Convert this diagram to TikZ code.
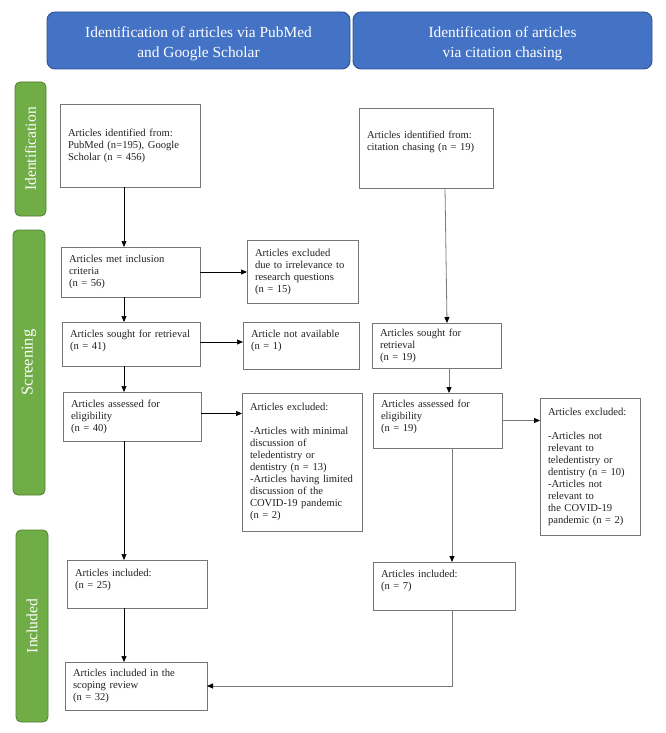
\documentclass[tikz,border=0pt]{standalone}
\usepackage{fontspec}
\setmainfont{Liberation Serif}
\usetikzlibrary{arrows.meta}
\definecolor{hdrblue}{HTML}{4472C4}
\definecolor{hdredge}{HTML}{2F528F}
\definecolor{bargreen}{HTML}{70AD47}
\definecolor{baredge}{HTML}{507E32}
\definecolor{boxedge}{HTML}{767676}
\definecolor{linegray}{HTML}{7A7A7A}
\definecolor{txt}{HTML}{222222}
\begin{document}
\begin{tikzpicture}[x=1pt,y=-1pt,
  hdr/.style={draw=hdredge, fill=hdrblue, line width=0.9pt, rounded corners=8pt, inner sep=0pt, outer sep=0pt},
  hdrtext/.style={text=white, align=center, font=\fontsize{15.4}{20}\selectfont, inner sep=0pt},
  bar/.style={draw=baredge, fill=bargreen, line width=0.8pt, rounded corners=5pt, text=white, font=\fontsize{15.5}{18}\selectfont, rotate=90, inner sep=0pt, outer sep=0pt},
  stepbox/.style={draw=boxedge, fill=white, line width=0.8pt, align=left, anchor=north west, inner xsep=8pt, inner ysep=2pt, outer sep=0pt, text=txt, font=\fontsize{10.6}{12}\selectfont},
  arr/.style={line width=0.7pt, -{Triangle[length=6pt,width=5pt]}},
  garr/.style={draw=linegray, line width=0.8pt, -{Triangle[length=6pt,width=5pt,color=black]}}
]
\useasboundingbox (0,0) rectangle (666,733);

% headers
\node[hdr, minimum width=303pt, minimum height=57pt] (hL) at (198.5,40.5) {};
\node[hdrtext] (hLt) at ([yshift=-3pt]hL.center) {Identification of articles via PubMed\\and Google Scholar};
\node[hdr, minimum width=299pt, minimum height=57pt] (hR) at (502.5,40.5) {};
\node[hdrtext] (hRt) at ([yshift=-3pt]hR.center) {Identification of articles\\via citation chasing};

% side bars
\node[bar, minimum width=134pt, minimum height=31pt] (bI) at (30.5,149) {Identification};
\node[bar, minimum width=265pt, minimum height=32pt, font=\fontsize{16.5}{18}\selectfont] (bS) at (29,362.5) {Screening};
\node[bar, minimum width=192pt, minimum height=32pt] (bN) at (32,626) {Included};

% left column
\node[stepbox, text width=124pt, minimum height=83pt] (a1) at (60,104) {Articles identified from:\\PubMed (n=195), Google\\Scholar (n = 456)};
\node[stepbox, text width=123pt, minimum height=50pt] (a2) at (61,247) {Articles met inclusion\\criteria\\(n = 56)};
\node[stepbox, text width=95pt, minimum height=63pt] (e1) at (247,240) {Articles excluded\\due to irrelevance to\\research questions\\(n = 15)};
\node[stepbox, text width=122pt, minimum height=44pt, text depth=20.5pt] (a3) at (62,322) {Articles sought for retrieval\\(n = 41)};
\node[stepbox, text width=100pt, minimum height=47pt, text depth=22.5pt] (na) at (243,322) {Article not available\\(n = 1)};
\node[stepbox, text width=122pt, minimum height=49pt] (a4) at (63,392) {Articles assessed for\\eligibility\\(n = 40)};
\node[stepbox, text width=104pt, minimum height=138pt] (e2) at (242,393) {Articles excluded:\\[12pt]-Articles with minimal\\discussion of\\teledentistry or\\dentistry (n = 13)\\-Articles having limited\\discussion of the\\COVID-19 pandemic\\(n = 2)};
\node[stepbox, text width=124pt, minimum height=48pt, text depth=22.5pt] (li) at (67,560) {Articles included:\\(n = 25)};
\node[stepbox, text width=126pt, minimum height=48pt] (fin) at (65,662) {Articles included in the\\scoping review\\(n = 32)};

% right column
\node[stepbox, text width=118pt, minimum height=80pt, text depth=26.5pt] (rb1) at (359,108) {Articles identified from:\\citation chasing (n = 19)};
\node[stepbox, text width=113pt, minimum height=45pt] (rs) at (372,323) {Articles sought for\\retrieval\\(n = 19)};
\node[stepbox, text width=113pt, minimum height=55pt, text depth=33.5pt] (ra) at (373,393) {Articles assessed for\\eligibility\\(n = 19)};
\node[stepbox, text width=84pt, minimum height=137pt] (re) at (540,398) {Articles excluded:\\[12pt]-Articles not\\relevant to\\teledentistry or\\dentistry (n = 10)\\-Articles not\\relevant to\\the COVID-19\\pandemic (n = 2)};
\node[stepbox, text width=126pt, minimum height=48pt, text depth=24.5pt] (ri) at (373,562) {Articles included:\\(n = 7)};

% guide coordinates
\coordinate (xL) at (124,0);
\coordinate (xR1) at (445,0);
\coordinate (xR2) at (447,0);
\coordinate (xR3) at (449,0);
\coordinate (xR4) at (452,0);

% left arrows
\draw[arr] (a1.south -| xL) -- (a2.north -| xL);
\draw[arr] (a2.south -| xL) -- (a3.north -| xL);
\draw[arr] (a3.south -| xL) -- (a4.north -| xL);
\draw[arr] (a4.south -| xL) -- (li.north -| xL);
\draw[arr] (li.south -| xL) -- (fin.north -| xL);
\draw[arr] (a2.east) -- (a2.east -| e1.west);
\draw[arr] ([yshift=2pt]a3.east) -- ([yshift=2pt]a3.east -| na.west);
\draw[arr] ([yshift=3pt]a4.east) -- ([yshift=3pt]a4.east -| e2.west);

% right arrows
\draw[garr] (rb1.south -| xR1) -- (rs.north -| xR2);
\draw[garr] (rs.south -| xR3) -- (ra.north -| xR3);
\draw[garr] (ra.south -| xR4) -- (ri.north -| xR4);
\draw[garr] (ra.east) -- (ra.east -| re.west);
\draw[garr] (ri.south -| xR4) |- (fin.east);
\end{tikzpicture}
\end{document}
